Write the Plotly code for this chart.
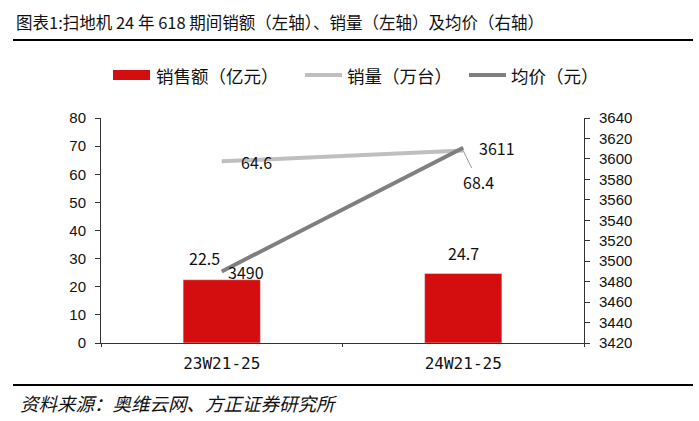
import plotly.graph_objects as go

categories = ["23W21-25", "24W21-25"]
sales = [22.5, 24.7]          # 销售额（亿元）
volume = [64.6, 68.4]         # 销量（万台）
price = [3490, 3611]          # 均价（元）

title_text = "图表1:扫地机 24 年 618 期间销额（左轴）、销量（左轴）及均价（右轴）"
source_text = "资料来源：奥维云网、方正证券研究所"

W, H = 699, 421
L, R, T, B = 101, 115, 118, 78
PW, PH = W - L - R, H - T - B

def px(x):
    return (x - L) / PW

def py(y):
    return (H - B - y) / PH

CJK = "Noto Sans CJK SC"
NUM = "Liberation Sans"
RED = "#D40E0E"
LGRAY = "#BFBFBF"
DGRAY = "#7F7F7F"

fig = go.Figure()
fig.add_trace(go.Bar(x=categories, y=sales, name="销售额（亿元）", marker_color=RED,
                     width=0.32, showlegend=False))
fig.add_trace(go.Scatter(x=categories, y=volume, name="销量（万台）", mode="lines",
                         line=dict(color=LGRAY, width=4), showlegend=False))
fig.add_trace(go.Scatter(x=categories, y=price, name="均价（元）", mode="lines",
                         line=dict(color=DGRAY, width=4), yaxis="y2", showlegend=False))

ann = []
lbl_font = dict(family=CJK, size=16, color="#111111")
# data labels
ann.append(dict(x=categories[0], y=sales[0], xref="x", yref="y", text=f"{sales[0]}",
                showarrow=False, yshift=22, xshift=-17, font=lbl_font))
ann.append(dict(x=categories[1], y=sales[1], xref="x", yref="y", text=f"{sales[1]}",
                showarrow=False, yshift=21, font=lbl_font))
ann.append(dict(x=categories[0], y=volume[0], xref="x", yref="y", text=f"{volume[0]}",
                showarrow=False, xshift=35, yshift=-1, font=lbl_font))
ann.append(dict(x=categories[1], y=volume[1], xref="x", yref="y", text=f"{volume[1]}",
                showarrow=True, ax=15, ay=31, arrowhead=0, arrowwidth=1, arrowcolor="#999999",
                standoff=0, font=lbl_font))
ann.append(dict(x=categories[0], y=price[0], xref="x", yref="y2", text=f"{price[0]}",
                showarrow=False, xshift=24, yshift=-1, font=lbl_font))
ann.append(dict(x=categories[1], y=price[1], xref="x", yref="y2", text=f"{price[1]}",
                showarrow=False, xshift=34, yshift=0, font=lbl_font))

# title & source
ann.append(dict(x=px(14), y=py(22), xref="paper", yref="paper", xanchor="left", yanchor="middle",
                text=title_text, showarrow=False, font=dict(family=CJK, size=16.5, color="#111111")))
ann.append(dict(x=px(18), y=py(403), xref="paper", yref="paper", xanchor="left", yanchor="middle",
                text="<i>" + source_text + "</i>", showarrow=False,
                font=dict(family=CJK, size=18.5, color="#111111")))

shapes = [
    dict(type="line", xref="paper", yref="paper", x0=px(13), x1=px(693), y0=py(40), y1=py(40),
         line=dict(color="black", width=2)),
    dict(type="line", xref="paper", yref="paper", x0=px(13), x1=px(693), y0=py(385), y1=py(385),
         line=dict(color="black", width=2)),
]

# legend (manual)
leg_y = 75
shapes.append(dict(type="rect", xref="paper", yref="paper", x0=px(113), x1=px(150),
                   y0=py(leg_y + 5), y1=py(leg_y - 5), fillcolor=RED, line=dict(width=0)))
shapes.append(dict(type="line", xref="paper", yref="paper", x0=px(305), x1=px(342),
                   y0=py(leg_y), y1=py(leg_y), line=dict(color=LGRAY, width=4)))
shapes.append(dict(type="line", xref="paper", yref="paper", x0=px(469), x1=px(506),
                   y0=py(leg_y), y1=py(leg_y), line=dict(color=DGRAY, width=4)))
leg_font = dict(family=CJK, size=17.5, color="#111111")
for xx, t in [(154, "销售额（亿元）"), (345, "销量（万台）"), (509, "均价（元）")]:
    ann.append(dict(x=px(xx), y=py(leg_y), xref="paper", yref="paper", xanchor="left",
                    yanchor="middle", text=t, showarrow=False, font=leg_font))

tick_font = dict(family=NUM, size=15, color="#111111")
fig.update_layout(
    width=W, height=H,
    margin=dict(l=L, r=R, t=T, b=B),
    paper_bgcolor="white", plot_bgcolor="white",
    xaxis=dict(type="category", range=[-0.5, 1.5], showline=True, linecolor="#333333",
               linewidth=1, ticks="outside", tickson="boundaries", ticklen=3,
               tickcolor="#333333", ticklabelstandoff=6,
               tickfont=dict(family="DejaVu Sans Mono", size=16, color="#111111"),
               showgrid=False, zeroline=False),
    yaxis=dict(range=[0, 80], dtick=10, showline=True, linecolor="#333333", linewidth=1,
               ticks="outside", ticklen=5, tickcolor="#333333", showgrid=False, zeroline=False,
               ticklabelstandoff=6, tickfont=tick_font),
    yaxis2=dict(range=[3420, 3640], dtick=20, overlaying="y", side="right", showline=True,
                linecolor="#333333", linewidth=1, ticks="outside", ticklen=5, tickcolor="#333333",
                showgrid=False, zeroline=False, ticklabelstandoff=6, tickfont=tick_font),
    annotations=ann, shapes=shapes, showlegend=False,
)

fig.write_html("out.html")
